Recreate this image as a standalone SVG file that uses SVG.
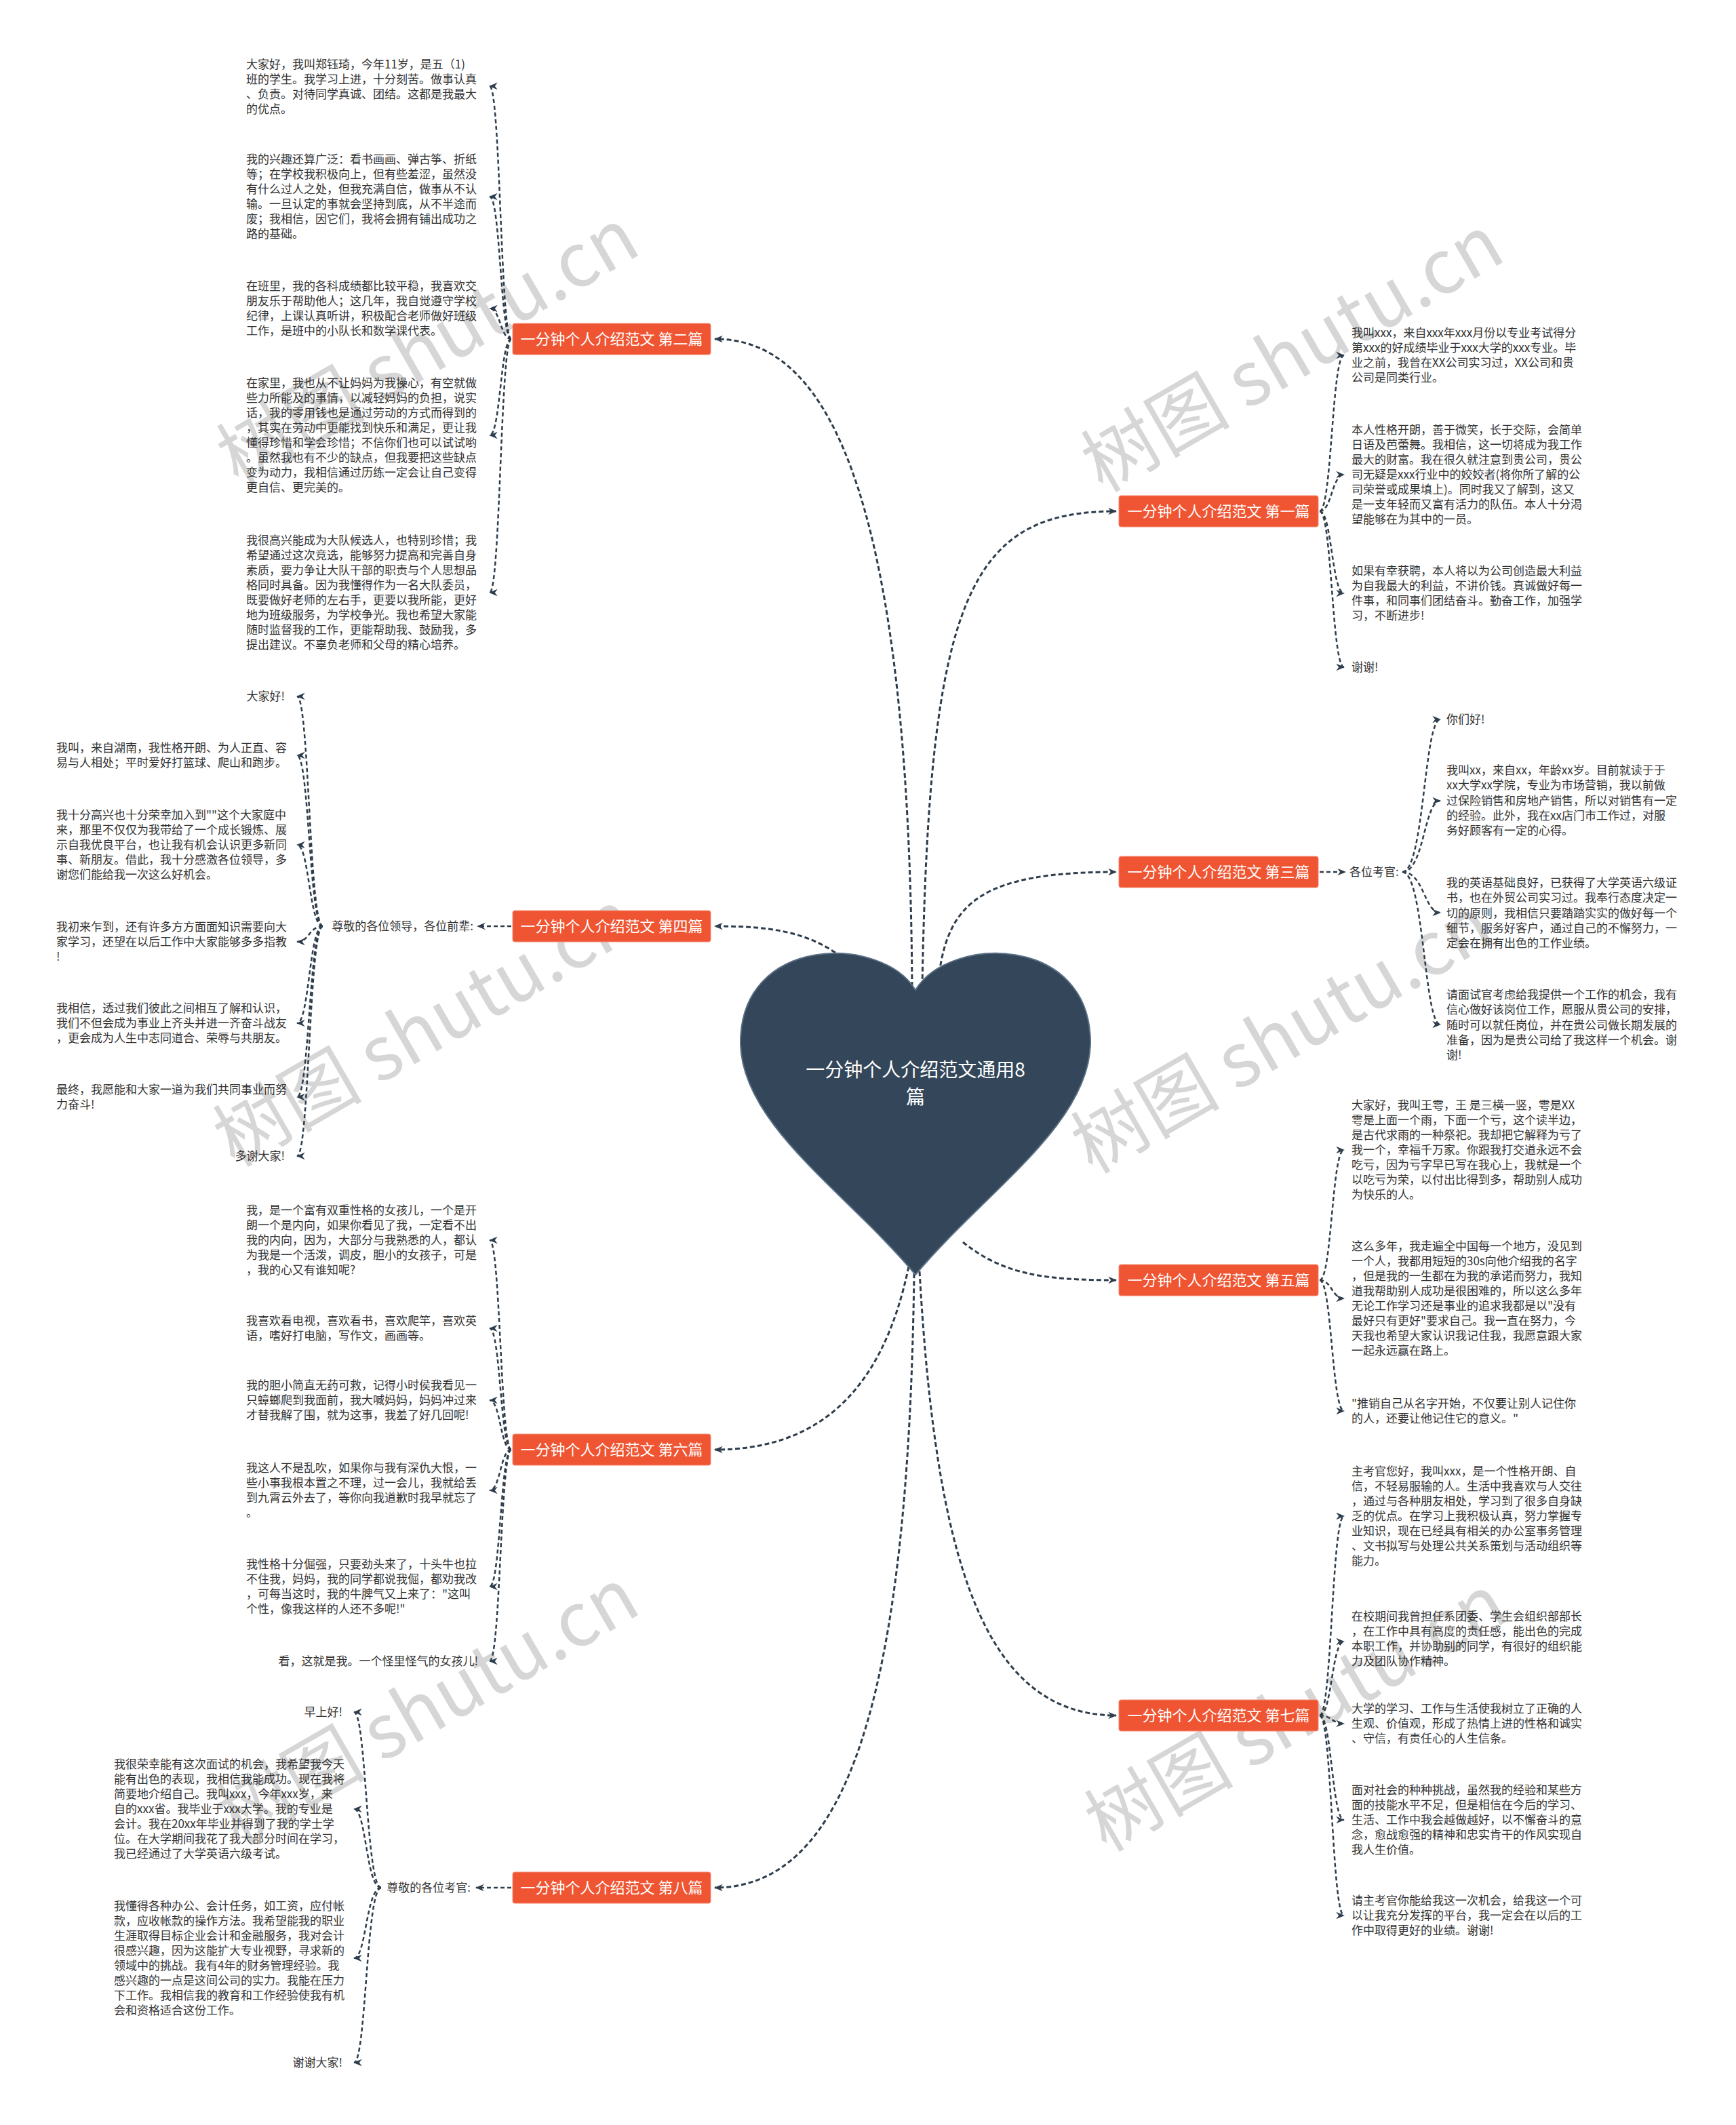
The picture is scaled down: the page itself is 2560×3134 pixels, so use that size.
<svg xmlns="http://www.w3.org/2000/svg" width="2560" height="3134" viewBox="0 0 2560 3134">
<defs>
<marker id="ah" viewBox="0 0 10 10" refX="9" refY="5" markerWidth="13" markerHeight="13" markerUnits="userSpaceOnUse" orient="auto"><path d="M0,1 L10,5 L0,9 L3,5 z" fill="#2e3d4b"/></marker>
<style>
.wm{font-family:'Noto Sans CJK SC','Noto Sans',sans-serif;font-size:110px;fill:#d6d6d6;text-anchor:middle}
.t{font-family:'Noto Sans CJK SC','Noto Sans',sans-serif;font-size:17px;fill:#333}
.te{font-family:'Noto Sans CJK SC','Noto Sans',sans-serif;font-size:17px;fill:#333;text-anchor:end}
.nb{fill:#ef5533;stroke:#f58a72;stroke-width:1}
.nt{font-family:'Noto Sans CJK SC','Noto Sans',sans-serif;font-size:22px;fill:#fff;text-anchor:middle}
.c{fill:none;stroke:#2e3d4b;stroke-width:2.5;stroke-dasharray:6 4;marker-end:url(#ah)}
.cm{fill:none;stroke:#2e3d4b;stroke-width:3;stroke-dasharray:7 4;marker-end:url(#ah)}
</style>
</defs>
<rect width="2560" height="3134" fill="#fff"/>
<g id="watermarks">
<text class="wm" transform="translate(650,545) rotate(-30)">树图 shutu.cn</text>
<text class="wm" transform="translate(1925,555) rotate(-30)">树图 shutu.cn</text>
<text class="wm" transform="translate(645,1550) rotate(-30)">树图 shutu.cn</text>
<text class="wm" transform="translate(1910,1560) rotate(-30)">树图 shutu.cn</text>
<text class="wm" transform="translate(650,2550) rotate(-30)">树图 shutu.cn</text>
<text class="wm" transform="translate(1930,2560) rotate(-30)">树图 shutu.cn</text>
</g>
<g id="connectors">
<path class="cm" d="M1345,1455 C1340,620 1180,500 1054,500"/>
<path class="cm" d="M1360,1455 C1370,880 1430,754 1646,754"/>
<path class="cm" d="M1385,1435 C1400,1330 1450,1286 1646,1286"/>
<path class="cm" d="M1232,1405 C1180,1370 1120,1366 1054,1366"/>
<path class="cm" d="M1420,1832 C1480,1880 1540,1888 1646,1888"/>
<path class="cm" d="M1340,1868 C1300,2060 1200,2138 1054,2138"/>
<path class="cm" d="M1356,1875 C1380,2300 1450,2530 1646,2530"/>
<path class="cm" d="M1348,1878 C1340,2500 1250,2784 1054,2784"/>
<!-- 第二篇 -->
<path class="c" d="M754,500 C738,500 738,127 722,127"/>
<path class="c" d="M754,500 C738,500 738,290 722,290"/>
<path class="c" d="M754,500 C738,500 738,455 722,455"/>
<path class="c" d="M754,500 C738,500 738,642 722,642"/>
<path class="c" d="M754,500 C738,500 738,874 722,874"/>
<!-- 第一篇 -->
<path class="c" d="M1946,754 C1964,754 1964,524 1982,524"/>
<path class="c" d="M1946,754 C1964,754 1964,700 1982,700"/>
<path class="c" d="M1946,754 C1964,754 1964,875 1982,875"/>
<path class="c" d="M1946,754 C1964,754 1964,984 1982,984"/>
<!-- 第三篇 -->
<path class="c" d="M1946,1286 L1984,1286"/>
<path class="c" d="M2068,1286 C2100,1286 2100,1061 2124,1061"/>
<path class="c" d="M2068,1286 C2100,1286 2100,1181 2124,1181"/>
<path class="c" d="M2068,1286 C2100,1286 2100,1346 2124,1346"/>
<path class="c" d="M2068,1286 C2100,1286 2100,1511 2124,1511"/>
<!-- 第四篇 -->
<path class="c" d="M754,1366 L704,1366"/>
<path class="c" d="M476,1366 C456,1366 456,1027 438,1027"/>
<path class="c" d="M476,1366 C456,1366 456,1114 438,1114"/>
<path class="c" d="M476,1366 C456,1366 456,1246 438,1246"/>
<path class="c" d="M476,1366 C456,1366 456,1389 438,1389"/>
<path class="c" d="M476,1366 C456,1366 456,1509 438,1509"/>
<path class="c" d="M476,1366 C456,1366 456,1618 438,1618"/>
<path class="c" d="M476,1366 C456,1366 456,1705 438,1705"/>
<!-- 第五篇 -->
<path class="c" d="M1946,1888 C1964,1888 1964,1696 1982,1696"/>
<path class="c" d="M1946,1888 C1964,1888 1964,1915 1982,1915"/>
<path class="c" d="M1946,1888 C1964,1888 1964,2081 1982,2081"/>
<!-- 第六篇 -->
<path class="c" d="M754,2138 C738,2138 738,1829 722,1829"/>
<path class="c" d="M754,2138 C738,2138 738,1959 722,1959"/>
<path class="c" d="M754,2138 C738,2138 738,2065 722,2065"/>
<path class="c" d="M754,2138 C738,2138 738,2198 722,2198"/>
<path class="c" d="M754,2138 C738,2138 738,2340 722,2340"/>
<path class="c" d="M754,2138 C738,2138 738,2450 722,2450"/>
<!-- 第七篇 -->
<path class="c" d="M1946,2530 C1964,2530 1964,2236 1982,2236"/>
<path class="c" d="M1946,2530 C1964,2530 1964,2421 1982,2421"/>
<path class="c" d="M1946,2530 C1964,2530 1964,2542 1982,2542"/>
<path class="c" d="M1946,2530 C1964,2530 1964,2684 1982,2684"/>
<path class="c" d="M1946,2530 C1964,2530 1964,2825 1982,2825"/>
<!-- 第八篇 -->
<path class="c" d="M754,2784 L702,2784"/>
<path class="c" d="M562,2784 C540,2784 540,2525 522,2525"/>
<path class="c" d="M562,2784 C540,2784 540,2668 522,2668"/>
<path class="c" d="M562,2784 C540,2784 540,2888 522,2888"/>
<path class="c" d="M562,2784 C540,2784 540,3042 522,3042"/>
</g>
<g id="center">
<path d="M1350,1460 C1300,1378 1090,1378 1092,1540 C1095,1660 1250,1760 1350,1880 C1450,1760 1605,1660 1608,1540 C1610,1378 1400,1378 1350,1460 Z" fill="#34475a" stroke="#5b7085" stroke-width="2"/>
<text x="1350" y="1588" style="font-family:'Noto Sans CJK SC','Noto Sans',sans-serif;font-size:28px;fill:#fff;text-anchor:middle">一分钟个人介绍范文通用8</text>
<text x="1350" y="1628" style="font-family:'Noto Sans CJK SC','Noto Sans',sans-serif;font-size:28px;fill:#fff;text-anchor:middle">篇</text>
</g>
<g id="n2"><rect class="nb" x="756" y="477" width="292" height="46" rx="3"/><text class="nt" x="902" y="508">一分钟个人介绍范文 第二篇</text></g>
<g id="n1"><rect class="nb" x="1650" y="731" width="294" height="46" rx="3"/><text class="nt" x="1797" y="762">一分钟个人介绍范文 第一篇</text></g>
<g id="n3"><rect class="nb" x="1650" y="1263" width="294" height="46" rx="3"/><text class="nt" x="1797" y="1294">一分钟个人介绍范文 第三篇</text></g>
<g id="n4"><rect class="nb" x="756" y="1343" width="292" height="46" rx="3"/><text class="nt" x="902" y="1374">一分钟个人介绍范文 第四篇</text></g>
<g id="n5"><rect class="nb" x="1650" y="1865" width="294" height="46" rx="3"/><text class="nt" x="1797" y="1896">一分钟个人介绍范文 第五篇</text></g>
<g id="n6"><rect class="nb" x="756" y="2115" width="292" height="46" rx="3"/><text class="nt" x="902" y="2146">一分钟个人介绍范文 第六篇</text></g>
<g id="n7"><rect class="nb" x="1650" y="2507" width="294" height="46" rx="3"/><text class="nt" x="1797" y="2538">一分钟个人介绍范文 第七篇</text></g>
<g id="n8"><rect class="nb" x="756" y="2761" width="292" height="46" rx="3"/><text class="nt" x="902" y="2792">一分钟个人介绍范文 第八篇</text></g>
<g id="n2-children">
<text class="t" y="101"><tspan x="363">大家好，我叫郑钰琦，今年11岁，是五（1)</tspan><tspan x="363" dy="22">班的学生。我学习上进，十分刻苦。做事认真</tspan><tspan x="363" dy="22">、负责。对待同学真诚、团结。这都是我最大</tspan><tspan x="363" dy="22">的优点。</tspan></text>
<text class="t" y="241"><tspan x="363">我的兴趣还算广泛：看书画画、弹古筝、折纸</tspan><tspan x="363" dy="22">等；在学校我积极向上，但有些羞涩，虽然没</tspan><tspan x="363" dy="22">有什么过人之处，但我充满自信，做事从不认</tspan><tspan x="363" dy="22">输。一旦认定的事就会坚持到底，从不半途而</tspan><tspan x="363" dy="22">废；我相信，因它们，我将会拥有铺出成功之</tspan><tspan x="363" dy="22">路的基础。</tspan></text>
<text class="t" y="428"><tspan x="363">在班里，我的各科成绩都比较平稳，我喜欢交</tspan><tspan x="363" dy="22">朋友乐于帮助他人；这几年，我自觉遵守学校</tspan><tspan x="363" dy="22">纪律，上课认真听讲，积极配合老师做好班级</tspan><tspan x="363" dy="22">工作，是班中的小队长和数学课代表。</tspan></text>
<text class="t" y="571"><tspan x="363">在家里，我也从不让妈妈为我操心，有空就做</tspan><tspan x="363" dy="22">些力所能及的事情，以减轻妈妈的负担，说实</tspan><tspan x="363" dy="22">话，我的零用钱也是通过劳动的方式而得到的</tspan><tspan x="363" dy="22">，其实在劳动中更能找到快乐和满足，更让我</tspan><tspan x="363" dy="22">懂得珍惜和学会珍惜；不信你们也可以试试哟</tspan><tspan x="363" dy="22">。虽然我也有不少的缺点，但我要把这些缺点</tspan><tspan x="363" dy="22">变为动力，我相信通过历练一定会让自己变得</tspan><tspan x="363" dy="22">更自信、更完美的。</tspan></text>
<text class="t" y="803"><tspan x="363">我很高兴能成为大队候选人，也特别珍惜；我</tspan><tspan x="363" dy="22">希望通过这次竞选，能够努力提高和完善自身</tspan><tspan x="363" dy="22">素质，要力争让大队干部的职责与个人思想品</tspan><tspan x="363" dy="22">格同时具备。因为我懂得作为一名大队委员，</tspan><tspan x="363" dy="22">既要做好老师的左右手，更要以我所能，更好</tspan><tspan x="363" dy="22">地为班级服务，为学校争光。我也希望大家能</tspan><tspan x="363" dy="22">随时监督我的工作，更能帮助我、鼓励我，多</tspan><tspan x="363" dy="22">提出建议。不辜负老师和父母的精心培养。</tspan></text>
</g>
<g id="n1-children">
<text class="t" y="497"><tspan x="1993">我叫xxx，来自xxx年xxx月份以专业考试得分</tspan><tspan x="1993" dy="22">第xxx的好成绩毕业于xxx大学的xxx专业。毕</tspan><tspan x="1993" dy="22">业之前，我曾在XX公司实习过，XX公司和贵</tspan><tspan x="1993" dy="22">公司是同类行业。</tspan></text>
<text class="t" y="640"><tspan x="1993">本人性格开朗，善于微笑，长于交际，会简单</tspan><tspan x="1993" dy="22">日语及芭蕾舞。我相信，这一切将成为我工作</tspan><tspan x="1993" dy="22">最大的财富。我在很久就注意到贵公司，贵公</tspan><tspan x="1993" dy="22">司无疑是xxx行业中的姣姣者(将你所了解的公</tspan><tspan x="1993" dy="22">司荣誉或成果填上)。同时我又了解到，这又</tspan><tspan x="1993" dy="22">是一支年轻而又富有活力的队伍。本人十分渴</tspan><tspan x="1993" dy="22">望能够在为其中的一员。</tspan></text>
<text class="t" y="848"><tspan x="1993">如果有幸获聘，本人将以为公司创造最大利益</tspan><tspan x="1993" dy="22">为自我最大的利益，不讲价钱。真诚做好每一</tspan><tspan x="1993" dy="22">件事，和同事们团结奋斗。勤奋工作，加强学</tspan><tspan x="1993" dy="22">习，不断进步!</tspan></text>
<text class="t" x="1993" y="990">谢谢!</text>
</g>
<g id="n3-children">
<text class="t" x="1990" y="1292">各位考官:</text>
<text class="t" x="2133" y="1067">你们好!</text>
<text class="t" y="1142"><tspan x="2133">我叫xx，来自xx，年龄xx岁。目前就读于于</tspan><tspan x="2133" dy="22.3">xx大学xx学院，专业为市场营销，我以前做</tspan><tspan x="2133" dy="22.3">过保险销售和房地产销售，所以对销售有一定</tspan><tspan x="2133" dy="22.3">的经验。此外，我在xx店门市工作过，对服</tspan><tspan x="2133" dy="22.3">务好顾客有一定的心得。</tspan></text>
<text class="t" y="1308"><tspan x="2133">我的英语基础良好，已获得了大学英语六级证</tspan><tspan x="2133" dy="22.3">书，也在外贸公司实习过。我奉行态度决定一</tspan><tspan x="2133" dy="22.3">切的原则，我相信只要踏踏实实的做好每一个</tspan><tspan x="2133" dy="22.3">细节，服务好客户，通过自己的不懈努力，一</tspan><tspan x="2133" dy="22.3">定会在拥有出色的工作业绩。</tspan></text>
<text class="t" y="1473"><tspan x="2133">请面试官考虑给我提供一个工作的机会，我有</tspan><tspan x="2133" dy="22.3">信心做好该岗位工作，愿服从贵公司的安排，</tspan><tspan x="2133" dy="22.3">随时可以就任岗位，并在贵公司做长期发展的</tspan><tspan x="2133" dy="22.3">准备，因为是贵公司给了我这样一个机会。谢</tspan><tspan x="2133" dy="22.3">谢!</tspan></text>
</g>
<g id="n4-children">
<text class="te" x="698" y="1372">尊敬的各位领导，各位前辈:</text>
<text class="te" x="420" y="1033">大家好!</text>
<text class="t" y="1109"><tspan x="83">我叫，来自湖南，我性格开朗、为人正直、容</tspan><tspan x="83" dy="22">易与人相处；平时爱好打篮球、爬山和跑步。</tspan></text>
<text class="t" y="1208"><tspan x="83">我十分高兴也十分荣幸加入到""这个大家庭中</tspan><tspan x="83" dy="22">来，那里不仅仅为我带给了一个成长锻炼、展</tspan><tspan x="83" dy="22">示自我优良平台，也让我有机会认识更多新同</tspan><tspan x="83" dy="22">事、新朋友。借此，我十分感激各位领导，多</tspan><tspan x="83" dy="22">谢您们能给我一次这么好机会。</tspan></text>
<text class="t" y="1373"><tspan x="83">我初来乍到，还有许多方方面面知识需要向大</tspan><tspan x="83" dy="22">家学习，还望在以后工作中大家能够多多指教</tspan><tspan x="83" dy="22">!</tspan></text>
<text class="t" y="1493"><tspan x="83">我相信，透过我们彼此之间相互了解和认识，</tspan><tspan x="83" dy="22">我们不但会成为事业上齐头并进一齐奋斗战友</tspan><tspan x="83" dy="22">，更会成为人生中志同道合、荣辱与共朋友。</tspan></text>
<text class="t" y="1613"><tspan x="83">最终，我愿能和大家一道为我们共同事业而努</tspan><tspan x="83" dy="22">力奋斗!</tspan></text>
<text class="te" x="420" y="1711">多谢大家!</text>
</g>
<g id="n5-children">
<text class="t" y="1636"><tspan x="1993">大家好，我叫王雩，王 是三横一竖，雩是XX</tspan><tspan x="1993" dy="22">雩是上面一个雨，下面一个亏，这个读半边，</tspan><tspan x="1993" dy="22">是古代求雨的一种祭祀。我却把它解释为亏了</tspan><tspan x="1993" dy="22">我一个，幸福千万家。你跟我打交道永远不会</tspan><tspan x="1993" dy="22">吃亏，因为亏字早已写在我心上，我就是一个</tspan><tspan x="1993" dy="22">以吃亏为荣，以付出比得到多，帮助别人成功</tspan><tspan x="1993" dy="22">为快乐的人。</tspan></text>
<text class="t" y="1844"><tspan x="1993">这么多年，我走遍全中国每一个地方，没见到</tspan><tspan x="1993" dy="22">一个人，我都用短短的30s向他介绍我的名字</tspan><tspan x="1993" dy="22">，但是我的一生都在为我的承诺而努力，我知</tspan><tspan x="1993" dy="22">道我帮助别人成功是很困难的，所以这么多年</tspan><tspan x="1993" dy="22">无论工作学习还是事业的追求我都是以"没有</tspan><tspan x="1993" dy="22">最好只有更好"要求自己。我一直在努力，今</tspan><tspan x="1993" dy="22">天我也希望大家认识我记住我，我愿意跟大家</tspan><tspan x="1993" dy="22">一起永远赢在路上。</tspan></text>
<text class="t" y="2076"><tspan x="1993">"推销自己从名字开始，不仅要让别人记住你</tspan><tspan x="1993" dy="22">的人，还要让他记住它的意义。"</tspan></text>
</g>
<g id="n6-children">
<text class="t" y="1791"><tspan x="363">我，是一个富有双重性格的女孩儿，一个是开</tspan><tspan x="363" dy="22">朗一个是内向，如果你看见了我，一定看不出</tspan><tspan x="363" dy="22">我的内向，因为，大部分与我熟悉的人，都认</tspan><tspan x="363" dy="22">为我是一个活泼，调皮，胆小的女孩子，可是</tspan><tspan x="363" dy="22">，我的心又有谁知呢?</tspan></text>
<text class="t" y="1954"><tspan x="363">我喜欢看电视，喜欢看书，喜欢爬竿，喜欢英</tspan><tspan x="363" dy="22">语，嗜好打电脑，写作文，画画等。</tspan></text>
<text class="t" y="2049"><tspan x="363">我的胆小简直无药可救，记得小时侯我看见一</tspan><tspan x="363" dy="22">只蟑螂爬到我面前，我大喊妈妈，妈妈冲过来</tspan><tspan x="363" dy="22">才替我解了围，就为这事，我羞了好几回呢!</tspan></text>
<text class="t" y="2171"><tspan x="363">我这人不是乱吹，如果你与我有深仇大恨，一</tspan><tspan x="363" dy="22">些小事我根本置之不理，过一会儿，我就给丢</tspan><tspan x="363" dy="22">到九霄云外去了，等你向我道歉时我早就忘了</tspan><tspan x="363" dy="22">。</tspan></text>
<text class="t" y="2313"><tspan x="363">我性格十分倔强，只要劲头来了，十头牛也拉</tspan><tspan x="363" dy="22">不住我，妈妈，我的同学都说我倔，都劝我改</tspan><tspan x="363" dy="22">，可每当这时，我的牛脾气又上来了："这叫</tspan><tspan x="363" dy="22">个性，像我这样的人还不多呢!"</tspan></text>
<text class="te" x="705" y="2456">看，这就是我。一个怪里怪气的女孩儿!</text>
</g>
<g id="n7-children">
<text class="t" y="2176"><tspan x="1993">主考官您好，我叫xxx，是一个性格开朗、自</tspan><tspan x="1993" dy="22">信，不轻易服输的人。生活中我喜欢与人交往</tspan><tspan x="1993" dy="22">，通过与各种朋友相处，学习到了很多自身缺</tspan><tspan x="1993" dy="22">乏的优点。在学习上我积极认真，努力掌握专</tspan><tspan x="1993" dy="22">业知识，现在已经具有相关的办公室事务管理</tspan><tspan x="1993" dy="22">、文书拟写与处理公共关系策划与活动组织等</tspan><tspan x="1993" dy="22">能力。</tspan></text>
<text class="t" y="2390"><tspan x="1993">在校期间我曾担任系团委、学生会组织部部长</tspan><tspan x="1993" dy="22">，在工作中具有高度的责任感，能出色的完成</tspan><tspan x="1993" dy="22">本职工作，并协助别的同学，有很好的组织能</tspan><tspan x="1993" dy="22">力及团队协作精神。</tspan></text>
<text class="t" y="2526"><tspan x="1993">大学的学习、工作与生活使我树立了正确的人</tspan><tspan x="1993" dy="22">生观、价值观，形成了热情上进的性格和诚实</tspan><tspan x="1993" dy="22">、守信，有责任心的人生信条。</tspan></text>
<text class="t" y="2646"><tspan x="1993">面对社会的种种挑战，虽然我的经验和某些方</tspan><tspan x="1993" dy="22">面的技能水平不足，但是相信在今后的学习、</tspan><tspan x="1993" dy="22">生活、工作中我会越做越好，以不懈奋斗的意</tspan><tspan x="1993" dy="22">念，愈战愈强的精神和忠实肯干的作风实现自</tspan><tspan x="1993" dy="22">我人生价值。</tspan></text>
<text class="t" y="2809"><tspan x="1993">请主考官你能给我这一次机会，给我这一个可</tspan><tspan x="1993" dy="22">以让我充分发挥的平台，我一定会在以后的工</tspan><tspan x="1993" dy="22">作中取得更好的业绩。谢谢!</tspan></text>
</g>
<g id="n8-children">
<text class="te" x="694" y="2790">尊敬的各位考官:</text>
<text class="te" x="505" y="2531">早上好!</text>
<text class="t" y="2608"><tspan x="168">我很荣幸能有这次面试的机会，我希望我今天</tspan><tspan x="168" dy="22">能有出色的表现，我相信我能成功。现在我将</tspan><tspan x="168" dy="22">简要地介绍自己。我叫xxx，今年xxx岁，来</tspan><tspan x="168" dy="22">自的xxx省。我毕业于xxx大学。我的专业是</tspan><tspan x="168" dy="22">会计。我在20xx年毕业并得到了我的学士学</tspan><tspan x="168" dy="22">位。在大学期间我花了我大部分时间在学习，</tspan><tspan x="168" dy="22">我已经通过了大学英语六级考试。</tspan></text>
<text class="t" y="2817"><tspan x="168">我懂得各种办公、会计任务，如工资，应付帐</tspan><tspan x="168" dy="22">款，应收帐款的操作方法。我希望能我的职业</tspan><tspan x="168" dy="22">生涯取得目标企业会计和金融服务，我对会计</tspan><tspan x="168" dy="22">很感兴趣，因为这能扩大专业视野，寻求新的</tspan><tspan x="168" dy="22">领域中的挑战。我有4年的财务管理经验。我</tspan><tspan x="168" dy="22">感兴趣的一点是这间公司的实力。我能在压力</tspan><tspan x="168" dy="22">下工作。我相信我的教育和工作经验使我有机</tspan><tspan x="168" dy="22">会和资格适合这份工作。</tspan></text>
<text class="te" x="505" y="3048">谢谢大家!</text>
</g>
</svg>
